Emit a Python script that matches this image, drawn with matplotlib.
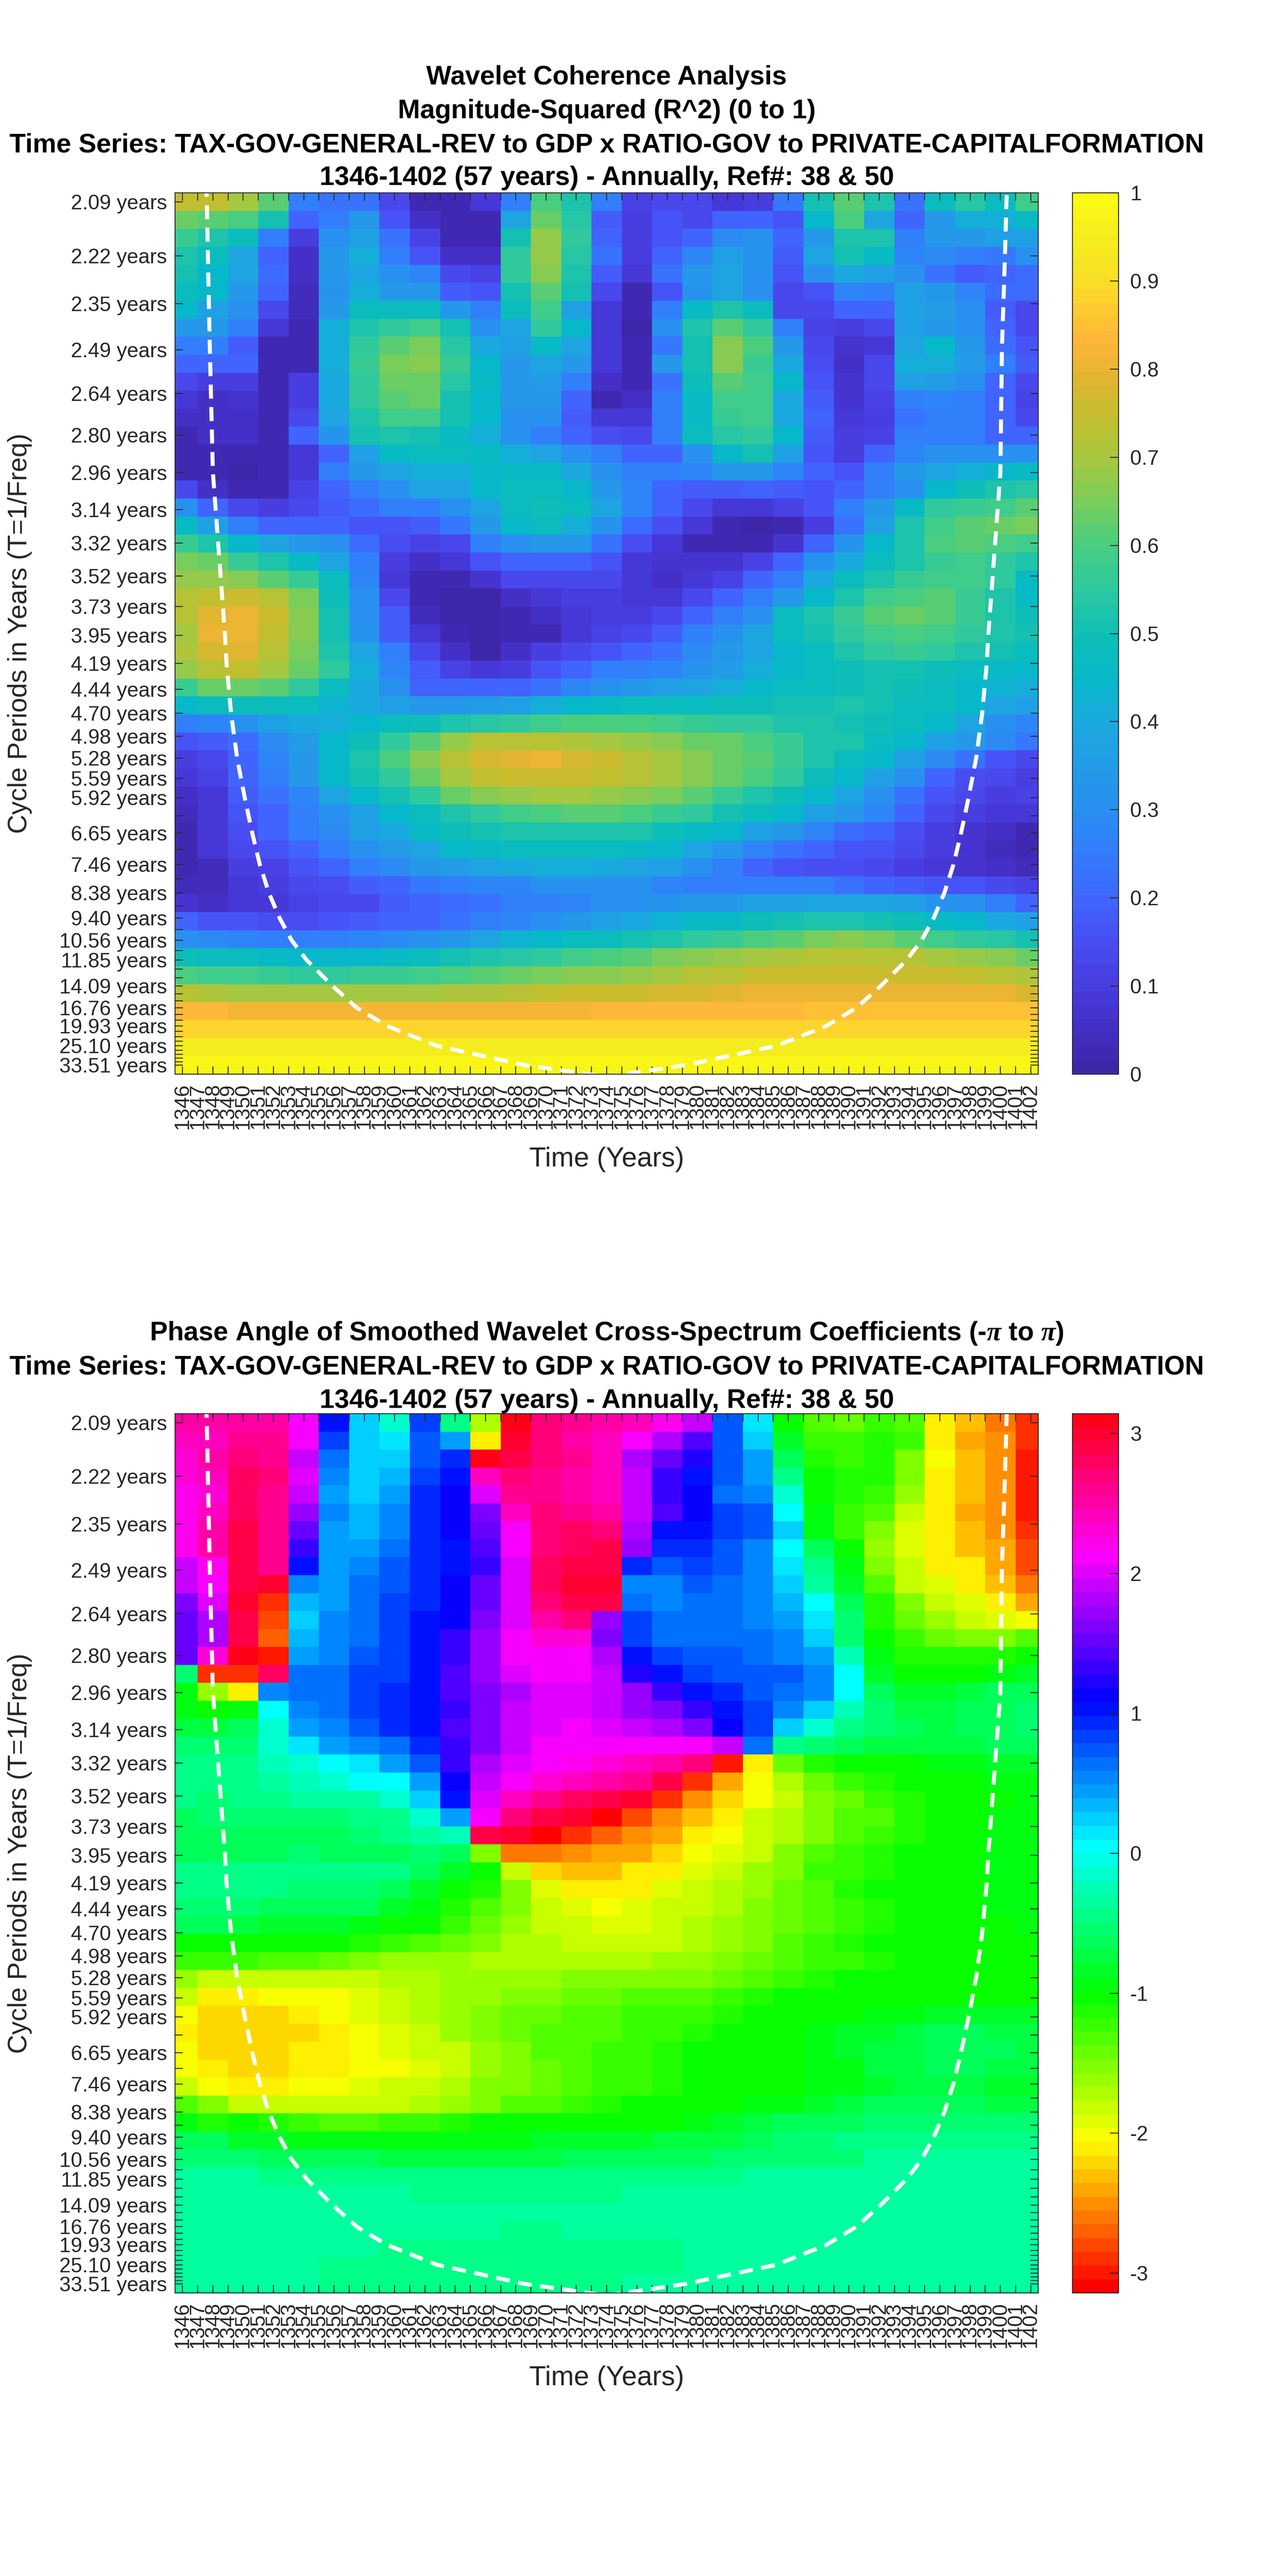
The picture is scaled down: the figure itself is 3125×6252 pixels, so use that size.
import numpy as np
import matplotlib
matplotlib.use('Agg')
import matplotlib.pyplot as plt
from matplotlib.colors import LinearSegmentedColormap, ListedColormap, hsv_to_rgb

plt.rcParams['font.family'] = ['Liberation Sans', 'DejaVu Sans']
plt.rcParams['mathtext.fontset'] = 'custom'
plt.rcParams['mathtext.it'] = 'Liberation Serif:italic:bold'

years = list(range(1346, 1403))
periods = [2.09, 2.22, 2.35, 2.49, 2.64, 2.80, 2.96, 3.14, 3.32, 3.52, 3.73, 3.95, 4.19, 4.44, 4.70, 4.98, 5.28,
           5.59, 5.92, 6.27, 6.65, 7.04, 7.46, 7.90, 8.38, 8.88, 9.40, 9.96, 10.56, 11.19, 11.85, 12.55, 13.30,
           14.09, 14.93, 15.82, 16.76, 17.76, 18.81, 19.93, 21.11, 22.37, 23.70, 25.10, 26.60, 28.18, 29.85,
           31.63, 33.51]
hidden_periods = [6.27, 7.04, 7.90, 8.88, 9.96, 11.19, 12.55, 13.30, 14.93, 15.82, 17.76, 18.81, 21.11, 22.37,
                  23.70, 26.60, 28.18, 29.85, 31.63]

# cone of influence
coi_years = [1347.5, 1347.6, 1347.67, 1347.8, 1348.0, 1348.8, 1348.9, 1349.2, 1349.6, 1350.1, 1350.6, 1351.1, 1351.7,
             1352.4, 1353.2, 1354.2, 1355.9, 1357.5, 1359.5, 1362.8, 1368.6, 1372.8, 1374.0, 1375.2, 1379.2, 1385.2,
             1388.5, 1390.5, 1392.1, 1393.8, 1394.8, 1395.6, 1396.3, 1396.9, 1397.4, 1397.9, 1398.4, 1398.8, 1399.1,
             1399.2, 1400.0, 1400.1, 1400.3, 1400.4, 1400.5]
coi_periods = [2.0, 2.09, 2.22, 2.49, 2.96, 3.95, 4.19, 4.70, 5.28, 5.92, 6.65, 7.46, 8.38, 9.40, 10.56, 11.85, 14.09,
               16.76, 19.93, 25.10, 33.51, 39.7, 42.0, 39.7, 33.51, 25.10, 19.93, 16.76, 14.09, 11.85, 10.56, 9.40,
               8.38, 7.46, 6.65, 5.92, 5.28, 4.70, 4.19, 3.95, 2.96, 2.49, 2.22, 2.09, 2.0]

# cells are read every second year: 1346, 1348, ... 1402
# coherence in hundredths, one list per cycle period
coh_00 = [74,74,69,62,25,22,22,14,3,3,8,26,60,52,25,12,14,13,9,10,24,50,62,52,22,47,54,47,58]
coh_01 = [64,62,60,50,19,25,33,16,5,2,3,38,64,54,18,10,17,14,19,20,16,44,60,38,20,34,41,41,46]
coh_02 = [57,53,47,25,10,30,37,23,12,2,3,50,68,55,20,10,16,20,29,30,20,34,53,53,26,34,33,37,36]
coh_03 = [52,47,39,20,6,34,41,25,16,6,6,56,68,54,22,10,20,27,37,32,18,38,50,46,27,29,25,24,31]
coh_04 = [51,44,39,21,6,33,39,31,28,13,11,56,66,53,18,8,23,33,39,30,16,31,40,36,30,22,18,20,21]
coh_05 = [47,45,34,19,4,32,41,34,34,18,16,50,61,50,14,3,17,32,39,31,13,16,28,26,37,33,27,21,21]
coh_06 = [44,37,31,14,4,34,48,47,48,34,25,47,59,37,8,3,26,46,53,48,14,14,19,20,37,35,31,18,14]
coh_07 = [34,34,25,8,3,41,53,55,59,50,31,38,55,44,8,1,31,53,61,56,26,12,10,14,36,34,31,20,13]
coh_08 = [26,26,18,3,2,42,56,62,65,54,40,36,46,39,9,2,24,50,66,60,33,14,7,8,39,44,34,21,16]
coh_09 = [20,20,19,3,2,41,57,65,66,57,44,34,39,34,8,2,33,51,67,57,40,15,6,13,41,42,35,25,18]
coh_10 = [13,10,10,3,10,40,56,64,64,54,46,34,35,26,6,3,23,49,61,59,44,17,7,13,36,35,30,20,13]
coh_11 = [8,6,7,3,10,40,55,61,64,50,45,33,33,20,3,6,26,46,59,59,40,18,7,11,25,27,25,20,12]
coh_12 = [5,5,6,2,13,38,53,58,58,50,44,31,30,18,9,9,26,46,57,59,40,20,8,10,22,25,25,20,13]
coh_13 = [2,5,5,2,20,32,50,53,50,46,42,31,26,20,15,13,25,47,54,56,45,18,10,12,25,26,26,20,20]
coh_14 = [2,2,2,3,9,20,37,46,47,47,46,41,39,30,25,19,19,30,44,50,36,16,10,19,28,31,31,31,31]
coh_15 = [2,2,1,3,8,25,34,38,41,41,44,46,46,40,31,25,25,28,33,34,28,20,17,25,34,38,41,44,46]
coh_16 = [14,5,3,3,11,20,26,31,38,38,44,47,47,45,34,28,20,18,18,20,18,16,19,25,31,45,49,52,54]
coh_17 = [31,20,14,10,14,18,21,25,26,30,39,47,49,47,39,27,19,13,9,9,12,16,26,34,46,55,57,59,62]
coh_18 = [46,37,26,20,20,20,17,16,18,24,33,45,47,42,32,21,15,8,3,1,3,10,23,37,52,59,62,63,65]
coh_19 = [57,53,45,38,34,31,21,15,12,14,25,31,34,33,22,15,9,3,3,2,7,19,32,45,53,60,61,60,59]
coh_20 = [65,63,57,53,46,38,26,10,5,8,16,20,20,20,17,9,7,7,7,12,19,30,40,47,53,57,59,56,53]
coh_21 = [68,68,66,62,57,47,28,9,3,3,7,13,14,14,13,9,6,8,12,19,26,40,47,52,57,59,59,55,46]
coh_22 = [72,74,75,72,65,49,31,13,2,1,1,6,9,10,10,8,9,14,20,25,33,45,53,59,60,61,57,53,46]
coh_23 = [72,79,80,75,66,50,31,18,4,0,0,3,6,9,10,10,14,19,25,31,47,53,57,62,63,62,57,53,49]
coh_24 = [70,80,80,74,66,50,32,18,8,2,0,2,3,8,12,14,18,25,30,38,47,50,55,59,60,59,56,52,50]
coh_25 = [71,77,79,72,65,53,39,26,13,5,1,5,10,14,17,19,22,29,33,39,44,47,52,56,57,55,53,51,47]
coh_26 = [68,73,74,70,64,55,42,27,18,12,9,10,16,20,25,26,28,32,35,41,45,47,49,51,51,49,47,46,45]
coh_27 = [57,64,63,61,56,47,40,30,20,20,20,20,22,27,31,34,36,39,41,45,47,48,49,51,49,47,45,43,42]
coh_28 = [44,48,49,48,47,43,40,36,34,34,35,37,41,44,46,47,48,48,49,49,50,51,52,50,48,47,44,39,36]
coh_29 = [26,28,31,36,40,41,44,47,49,53,54,56,59,60,60,60,59,57,56,55,53,52,50,49,47,45,39,31,27]
coh_30 = [16,18,21,29,35,45,49,56,62,68,72,73,73,71,70,68,66,64,63,60,57,53,52,47,44,37,33,29,24]
coh_31 = [10,13,20,27,34,45,53,60,67,73,77,79,80,78,75,73,70,66,64,62,57,53,47,44,37,29,22,16,14]
coh_32 = [8,11,19,26,33,44,51,56,64,70,74,76,76,76,74,72,70,66,63,60,55,49,45,37,30,20,15,13,10]
coh_33 = [6,9,18,22,28,38,44,50,56,63,66,68,69,69,68,66,65,62,57,53,49,45,39,30,22,16,14,10,12]
coh_34 = [4,8,16,20,25,31,37,45,47,53,56,59,60,62,62,60,57,55,51,47,44,37,33,27,19,14,10,8,8]
coh_35 = [3,8,15,20,25,29,36,40,46,49,51,53,53,53,53,52,49,46,45,37,33,27,21,19,15,10,7,5,3]
coh_36 = [3,8,13,17,20,25,30,35,39,45,46,47,48,48,47,46,44,39,33,27,22,19,17,16,14,10,7,4,2]
coh_37 = [3,4,10,12,17,20,25,29,33,35,39,40,41,41,40,39,36,31,25,20,17,15,15,14,10,8,7,5,4]
coh_38 = [4,4,9,10,13,15,18,20,24,25,27,28,30,31,31,30,28,26,25,25,26,25,22,20,18,17,16,14,12]
coh_39 = [7,6,8,8,12,13,14,18,19,21,23,25,26,28,30,31,32,33,34,37,37,39,39,38,36,32,31,26,20]
coh_40 = [20,17,16,15,15,16,18,19,20,22,25,28,31,33,37,40,43,46,46,49,51,53,52,51,49,46,45,40,37]
coh_41 = [31,29,27,26,25,25,27,29,31,34,39,43,45,47,48,50,53,55,57,60,62,65,66,65,61,58,56,54,50]
coh_42 = [49,48,47,46,45,45,45,46,48,50,52,54,56,58,60,62,65,67,68,70,71,72,73,73,72,70,68,66,63]
coh_43 = [60,58,58,57,56,56,57,57,58,60,62,63,65,66,67,68,70,72,73,75,75,76,76,76,76,75,74,73,71]
coh_44 = [72,71,70,70,69,69,69,70,70,71,71,73,74,75,75,76,77,78,79,80,81,81,81,81,81,81,81,80,78]
coh_45 = [83,83,82,82,82,82,82,82,82,82,82,82,82,82,83,84,84,84,84,84,84,85,85,85,85,85,85,85,85]
coh_46 = [89,89,89,89,89,89,89,89,89,89,89,89,89,89,89,89,89,89,89,89,89,89,89,89,89,89,89,89,89]
coh_47 = [95,95,95,95,95,95,95,95,95,95,95,95,95,95,95,95,95,94,94,94,94,94,94,94,94,94,94,94,94]
coh_48 = [97,97,97,97,97,97,97,97,97,97,97,97,97,97,97,97,97,97,97,97,97,97,97,97,97,97,97,97,97]

# phase angle in tenths of a radian
phs_00 = [25,25,25,25,21,10,2,-1,8,-4,-17,31,27,26,25,24,22,19,7,1,-10,-13,-14,-12,-13,-21,-23,-26,-29]
phs_01 = [24,24,26,26,21,8,2,1,7,4,-21,30,27,25,24,21,18,14,7,2,-8,-12,-12,-11,-12,-21,-24,-25,-29]
phs_02 = [23,25,27,26,19,6,2,2,7,9,31,29,27,26,24,18,15,12,7,4,-6,-11,-12,-11,-15,-20,-23,-25,-30]
phs_03 = [23,24,28,27,20,5,2,3,8,10,24,27,26,25,24,19,13,10,7,4,-4,-10,-11,-11,-15,-21,-23,-25,-30]
phs_04 = [22,23,28,26,19,4,2,4,9,11,20,26,26,25,24,19,13,11,6,5,-1,-10,-11,-12,-16,-21,-23,-25,-30]
phs_05 = [22,24,28,26,17,5,3,5,9,11,16,24,27,26,25,19,14,11,8,7,0,-9,-12,-13,-18,-21,-24,-25,-30]
phs_06 = [22,25,29,26,15,4,3,5,9,11,15,21,27,28,27,18,10,10,8,7,2,-9,-12,-15,-19,-21,-23,-25,-29]
phs_07 = [22,25,29,26,13,4,4,6,9,10,14,21,27,28,29,17,9,9,7,5,0,-6,-10,-16,-19,-21,-23,-24,-28]
phs_08 = [19,22,29,26,10,4,5,7,9,10,13,20,28,29,29,9,7,8,7,5,1,-4,-9,-15,-18,-21,-21,-24,-28]
phs_09 = [19,21,29,30,5,4,6,7,9,11,15,20,28,30,30,5,5,7,6,5,2,-3,-8,-13,-18,-19,-21,-23,-26]
phs_10 = [16,20,30,-29,3,4,6,8,9,11,15,20,27,29,29,6,5,6,6,5,3,0,-6,-11,-15,-18,-19,-21,-24]
phs_11 = [15,18,29,-28,2,5,6,8,10,11,16,20,25,27,17,8,6,6,6,5,4,1,-5,-11,-14,-16,-18,-19,-20]
phs_12 = [15,18,29,-27,3,5,6,8,10,13,17,21,23,23,16,8,6,6,6,6,5,2,-5,-10,-12,-14,-15,-15,-13]
phs_13 = [15,23,31,-30,4,5,7,8,10,13,17,21,21,21,18,10,8,7,7,6,5,4,-2,-9,-11,-11,-11,-11,-10]
phs_14 = [-5,-29,-29,28,6,6,8,8,10,14,17,20,21,21,19,12,10,8,7,7,7,5,0,-8,-10,-10,-10,-9,-8]
phs_15 = [-9,-16,-21,5,6,6,8,9,10,14,16,18,20,20,19,17,13,10,9,7,6,5,0,-6,-8,-8,-7,-6,-6]
phs_16 = [-9,-10,-9,0,5,6,8,9,10,13,16,19,20,20,19,17,16,13,10,8,5,2,-2,-5,-7,-7,-6,-6,-5]
phs_17 = [-7,-7,-6,-1,4,5,7,9,10,14,16,19,20,21,20,19,18,16,11,8,2,-1,-4,-5,-6,-7,-6,-6,-5]
phs_18 = [-5,-5,-5,-1,1,4,5,6,9,13,16,19,21,21,21,21,21,21,19,6,-4,-5,-6,-7,-7,-7,-7,-6,-6]
phs_19 = [-4,-4,-4,-2,-1,0,1,4,7,13,18,20,21,22,23,24,25,27,-30,-21,-14,-11,-10,-10,-10,-9,-9,-8,-8]
phs_20 = [-4,-4,-4,-3,-2,-1,0,0,4,11,19,21,23,24,25,26,29,-29,-24,-20,-17,-14,-12,-11,-10,-10,-10,-9,-9]
phs_21 = [-4,-5,-4,-4,-3,-3,-3,-1,2,10,20,24,26,28,29,30,-29,-25,-22,-20,-18,-15,-14,-12,-11,-10,-10,-10,-9]
phs_22 = [-6,-5,-5,-5,-5,-5,-4,-4,-1,4,21,27,29,30,-31,-28,-25,-23,-21,-18,-17,-15,-13,-13,-11,-10,-10,-9,-9]
phs_23 = [-6,-6,-6,-6,-6,-6,-5,-4,-3,-2,29,30,-31,-29,-27,-25,-24,-21,-20,-18,-17,-15,-13,-12,-11,-10,-10,-9,-9]
phs_24 = [-6,-6,-6,-6,-5,-6,-6,-6,-5,-6,-15,-26,-26,-25,-24,-24,-22,-20,-19,-18,-15,-13,-12,-11,-10,-10,-10,-9,-9]
phs_25 = [-4,-4,-4,-4,-4,-4,-4,-4,-6,-8,-10,-18,-22,-23,-23,-21,-21,-19,-18,-16,-15,-12,-12,-11,-10,-10,-10,-9,-9]
phs_26 = [-4,-4,-4,-4,-5,-5,-5,-6,-8,-10,-11,-15,-19,-21,-21,-21,-19,-18,-17,-16,-14,-13,-11,-10,-10,-10,-10,-9,-9]
phs_27 = [-5,-5,-5,-6,-6,-6,-6,-8,-9,-11,-13,-15,-18,-19,-20,-19,-18,-18,-17,-15,-14,-13,-12,-11,-10,-10,-10,-9,-9]
phs_28 = [-6,-6,-7,-8,-8,-8,-9,-10,-10,-12,-14,-16,-18,-18,-19,-19,-18,-17,-16,-15,-14,-13,-12,-11,-10,-10,-10,-10,-9]
phs_29 = [-10,-10,-10,-10,-10,-10,-11,-12,-13,-14,-15,-17,-17,-18,-18,-18,-18,-17,-16,-15,-13,-12,-11,-10,-10,-10,-10,-10,-10]
phs_30 = [-12,-12,-12,-13,-13,-14,-15,-16,-16,-16,-17,-17,-17,-17,-17,-17,-16,-16,-15,-14,-13,-12,-12,-11,-10,-10,-10,-10,-10]
phs_31 = [-16,-18,-18,-18,-18,-18,-18,-17,-17,-16,-16,-16,-16,-15,-15,-15,-15,-15,-14,-13,-12,-11,-10,-10,-10,-10,-10,-10,-10]
phs_32 = [-18,-21,-21,-20,-20,-20,-19,-18,-17,-16,-16,-15,-15,-14,-14,-13,-13,-13,-12,-11,-10,-10,-10,-10,-10,-10,-10,-10,-10]
phs_33 = [-20,-22,-22,-22,-21,-20,-19,-18,-17,-16,-15,-14,-14,-13,-13,-12,-12,-12,-11,-10,-10,-10,-10,-9,-9,-8,-8,-8,-8]
phs_34 = [-21,-22,-22,-22,-22,-21,-20,-19,-18,-16,-15,-14,-13,-13,-13,-12,-12,-11,-10,-10,-10,-9,-8,-8,-7,-6,-6,-7,-7]
phs_35 = [-20,-22,-22,-22,-21,-21,-20,-19,-18,-18,-16,-15,-13,-13,-12,-12,-11,-10,-10,-10,-10,-9,-8,-7,-7,-6,-6,-6,-7]
phs_36 = [-20,-21,-22,-22,-21,-21,-20,-20,-19,-18,-16,-15,-14,-13,-12,-12,-11,-10,-10,-10,-10,-9,-9,-7,-7,-6,-6,-7,-7]
phs_37 = [-18,-20,-21,-21,-20,-20,-19,-18,-18,-17,-15,-15,-14,-13,-12,-12,-11,-10,-10,-10,-10,-9,-9,-8,-7,-7,-7,-8,-8]
phs_38 = [-13,-15,-18,-18,-18,-18,-18,-18,-17,-16,-15,-13,-13,-12,-11,-10,-10,-10,-10,-9,-9,-8,-7,-6,-6,-6,-6,-7,-7]
phs_39 = [-9,-11,-10,-11,-12,-13,-13,-12,-12,-11,-10,-10,-10,-10,-10,-10,-10,-9,-8,-7,-6,-6,-6,-5,-5,-5,-5,-5,-5]
phs_40 = [-6,-6,-8,-8,-9,-9,-9,-9,-9,-9,-9,-9,-8,-8,-8,-8,-7,-7,-7,-6,-5,-5,-4,-4,-4,-4,-4,-4,-4]
phs_41 = [-5,-5,-5,-6,-6,-6,-6,-7,-7,-7,-7,-7,-7,-6,-6,-6,-6,-6,-5,-5,-5,-5,-5,-3,-3,-3,-3,-3,-3]
phs_42 = [-3,-3,-3,-4,-4,-4,-4,-4,-4,-4,-4,-4,-4,-4,-4,-4,-4,-4,-4,-3,-3,-3,-3,-3,-3,-3,-3,-3,-3]
phs_43 = [-3,-3,-3,-3,-3,-3,-3,-3,-4,-4,-4,-4,-4,-4,-4,-3,-3,-3,-3,-3,-3,-3,-3,-3,-3,-3,-3,-3,-3]
phs_44 = [-3,-3,-3,-3,-3,-3,-3,-3,-3,-3,-3,-3,-3,-3,-3,-3,-3,-3,-3,-3,-3,-3,-3,-3,-3,-3,-3,-3,-3]
phs_45 = [-3,-3,-3,-3,-3,-3,-3,-3,-3,-3,-3,-4,-4,-3,-3,-3,-3,-3,-3,-3,-3,-3,-3,-3,-3,-3,-3,-3,-3]
phs_46 = [-3,-3,-3,-3,-3,-3,-3,-4,-4,-4,-4,-4,-4,-4,-4,-4,-4,-3,-3,-3,-3,-3,-3,-3,-3,-3,-3,-3,-3]
phs_47 = [-3,-3,-3,-3,-3,-4,-4,-4,-4,-4,-4,-4,-4,-4,-4,-4,-4,-3,-3,-3,-3,-3,-3,-3,-3,-3,-3,-3,-3]
phs_48 = [-3,-3,-3,-3,-3,-4,-4,-4,-4,-4,-4,-4,-4,-4,-4,-3,-3,-3,-3,-3,-3,-3,-3,-3,-3,-3,-3,-3,-3]

coherence = np.array([globals()[f'coh_{i:02d}'] for i in range(49)]) / 100
phase = np.array([globals()[f'phs_{i:02d}'] for i in range(49)]) / 10

# parula, anchors taken from the colorbar
parula_stops = [(0, '#3e26a8'), (0.05, '#4430c8'), (0.1, '#483ee1'), (0.15, '#4850f5'), (0.2, '#3e69ff'),
                (0.25, '#327dfc'), (0.3, '#2891f0'), (0.35, '#239be6'), (0.4, '#19aade'), (0.45, '#05b9c8'),
                (0.5, '#0fbeb4'), (0.55, '#2dc8a0'), (0.6, '#46cd82'), (0.65, '#78cd5a'), (0.7, '#a5c841'),
                (0.75, '#c3be2d'), (0.8, '#e6b432'), (0.84, '#ffb737'), (0.87, '#ffc832'), (0.9, '#fadc28'),
                (0.95, '#f5eb1e'), (1, '#fafa14')]
parula = LinearSegmentedColormap.from_list('parula', parula_stops).resampled(64)
hsv64 = ListedColormap(hsv_to_rgb(np.column_stack([np.arange(64) / 64, np.ones(64), np.ones(64)])))

W, H = 3125, 6252
INK = '#262626'
fig = plt.figure(figsize=(W / 100, H / 100), dpi=100)

freqs = 1 / np.array(periods)
df = (freqs[0] - freqs[-1]) / 48
# rows run from the shortest period at the top to the longest at the bottom
y_edges = np.linspace(freqs[0] + df / 2, freqs[-1] - df / 2, 50)
x_edges = np.array([1345.5] + list(range(1347, 1402, 2)) + [1402.5])


def panel(top, bottom, values, cmap, vmin, vmax, cticks, clabels):
    ax = fig.add_axes([425 / W, 1 - bottom / H, (2521 - 425) / W, (bottom - top) / H])
    mesh = ax.pcolormesh(x_edges, y_edges, values, cmap=cmap, vmin=vmin, vmax=vmax, shading='flat')
    ax.plot(coi_years, 1 / np.array(coi_periods), color='white', lw=7, dashes=(3.5, 2.1))
    ax.set_xlim(1345.5, 1402.5)
    ax.set_ylim(y_edges[-1], y_edges[0])
    ax.set_xticks(years)
    ax.set_xticklabels([str(y) for y in years], rotation=90, fontsize=36, color=INK)
    ax.set_yticks(freqs)
    ax.set_yticklabels(['' if p in hidden_periods else f'{p:.2f} years' for p in periods], fontsize=36, color=INK)
    ax.tick_params(axis='both', direction='in', length=14, width=1.6, color=INK, top=True, right=True)
    ax.tick_params(axis='y', pad=14)
    ax.tick_params(axis='x', pad=16)
    for s in ax.spines.values():
        s.set_color(INK)
        s.set_linewidth(1.6)
    fig.text(1473 / W, 1 - (bottom + 207) / H, 'Time (Years)', fontsize=48, color=INK, ha='center', va='center')
    fig.text(48 / W, 1 - (top + bottom) / 2 / H, 'Cycle Periods in Years (T=1/Freq)', fontsize=46.5, color=INK,
             rotation=90, ha='center', va='center')
    cax = fig.add_axes([2604 / W, 1 - bottom / H, (2716 - 2604) / W, (bottom - top) / H])
    cb = fig.colorbar(mesh, cax=cax)
    cb.set_ticks(cticks)
    cb.set_ticklabels(clabels)
    cb.ax.tick_params(direction='in', length=15, width=1.6, color=INK, labelsize=36, labelcolor=INK, pad=20)
    cb.outline.set_edgecolor(INK)
    cb.outline.set_linewidth(1.6)
    return ax


panel(468, 2607, coherence, parula, 0, 1, [0, .1, .2, .3, .4, .5, .6, .7, .8, .9, 1],
      ['0', '0.1', '0.2', '0.3', '0.4', '0.5', '0.6', '0.7', '0.8', '0.9', '1'])
panel(3431, 5565, phase, hsv64, -np.pi, np.pi, [-3, -2, -1, 0, 1, 2, 3], ['-3', '-2', '-1', '0', '1', '2', '3'])

series = 'Time Series: TAX-GOV-GENERAL-REV to GDP x RATIO-GOV to PRIVATE-CAPITALFORMATION'
span = '1346-1402 (57 years) - Annually, Ref#: 38 & 50'
title_lines = [(188, 'Wavelet Coherence Analysis'), (270, 'Magnitude-Squared (R^2) (0 to 1)'), (352, series),
               (432, span), (3236, r'Phase Angle of Smoothed Wavelet Cross-Spectrum Coefficients (-$\mathit{\pi}$ to $\mathit{\pi}$)'),
               (3318, series), (3400, span)]
for y, txt in title_lines:
    fig.text(1473 / W, 1 - y / H, txt, fontsize=46.5, fontweight='bold', color='black', ha='center', va='center')

fig.savefig('out.png', dpi=100, facecolor='white')
